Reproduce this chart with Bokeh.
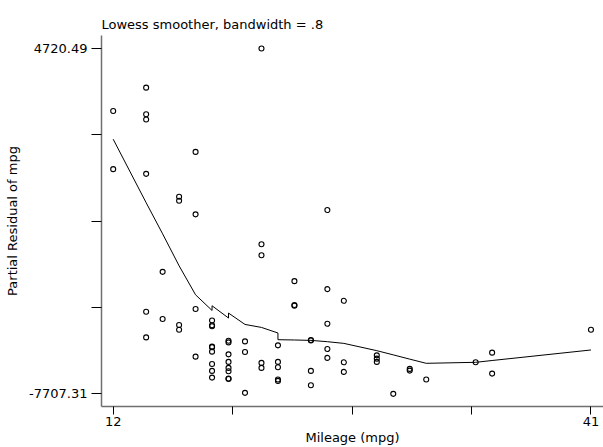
from bokeh.plotting import figure
from bokeh.models import FixedTicker, PrintfTickFormatter, Range1d, ColumnDataSource
from bokeh.embed import file_html
from bokeh.resources import INLINE

# --- data ---
mpg = [12, 12,
       14, 14, 14, 14, 14, 14,
       15, 15,
       16, 16, 16, 16,
       17, 17, 17, 17,
       18, 18, 18, 18, 18, 18, 18, 18, 18,
       19, 19, 19, 19, 19, 19, 19, 19,
       20, 20, 20,
       21, 21, 21, 21, 21,
       22, 22, 22, 22, 22,
       23, 23, 23,
       24, 24, 24, 24,
       25, 25, 25, 25, 25,
       26, 26, 26,
       28, 28, 28,
       29,
       30, 30,
       31,
       34,
       35, 35,
       41]
partial_resid = [2470, 378,
                 3310, 2352, 2162, 209, -4754, -5676,
                 -3318, -5016,
                 -616, -760, -5231, -5400,
                 999, -1248, -4657, -6369,
                 -5066, -5238, -5274, -6010, -6028, -6190, -6631, -6882, -7123,
                 -5795, -5856, -6286, -6559, -6774, -6896, -7158, -7176,
                 -5820, -6200, -7672,
                 4720.49, -2324, -2719, -6595, -6774,
                 -5963, -6559, -6753, -7194, -7241,
                 -3652, -4513, -4538,
                 -5770, -5790, -6882, -7399,
                 -1093, -3939, -5185, -6093, -6415,
                 -4359, -6573, -6918,
                 -6322, -6441, -6559,
                 -7707.31,
                 -6810, -6871,
                 -7194,
                 -6573,
                 -6225, -6979,
                 -5400]

lowess_x = [12, 14, 15, 16, 17, 18, 18, 19, 19, 20, 21, 22, 22, 23, 24, 25, 26,
            28, 29, 30, 31, 34, 35, 41]
lowess_y = [1455, -830, -1950, -3100, -4144, -4707, -4538, -4980, -4801, -5210,
            -5318, -5518, -5759, -5770, -5784, -5831, -5892, -6154, -6305, -6459,
            -6609, -6573, -6508, -6129]

x_major_ticks = [12, 41]
x_minor_ticks = [19.25, 26.5, 33.75]
y_major_ticks = [-7707.31, 4720.49]
y_minor_ticks = [-4600.36, -1493.41, 1613.54]

title_text = "Lowess smoother, bandwidth = .8"
x_label = "Mileage (mpg)"
y_label = "Partial Residual of mpg"

FONT = "DejaVu Sans"
FS = "13px"

p = figure(width=603, height=447, output_backend="svg", toolbar_location=None,
           x_range=Range1d(11.29, 41.76), y_range=Range1d(-8163, 5187),
           min_border_left=101, min_border_right=0, min_border_top=35,
           min_border_bottom=40)
p.background_fill_color = "white"
p.border_fill_color = "white"
p.outline_line_color = None
p.xgrid.visible = False
p.ygrid.visible = False

p.title.text = title_text
p.title.align = "left"
p.title.text_font = FONT
p.title.text_font_size = FS
p.title.text_font_style = "normal"
p.title.text_color = "black"
p.title.offset = 0
p.title.standoff = 8

p.line(lowess_x, lowess_y, line_color="black", line_width=1)
src = ColumnDataSource(dict(x=mpg, y=partial_resid))
p.scatter("x", "y", source=src, marker="circle", size=5, fill_color=None,
          line_color="black", line_width=1.1)

for ax, maj, mino, fmt, tick_out in (
        (p.xaxis[0], x_major_ticks, x_minor_ticks, "%d", 8),
        (p.yaxis[0], y_major_ticks, y_minor_ticks, "%.2f", 10)):
    ax.ticker = FixedTicker(ticks=maj, minor_ticks=mino)
    ax.formatter = PrintfTickFormatter(format=fmt)
    ax.axis_line_color = "#707070"
    ax.axis_line_width = 1.5
    ax.major_tick_line_color = "black"
    ax.minor_tick_line_color = "black"
    ax.major_tick_out = tick_out
    ax.major_tick_in = 0
    ax.minor_tick_out = tick_out
    ax.minor_tick_in = 0
    ax.major_label_text_font = FONT
    ax.major_label_text_font_size = FS
    ax.major_label_text_color = "black"
    ax.axis_label_text_font = FONT
    ax.axis_label_text_font_size = FS
    ax.axis_label_text_font_style = "normal"
    ax.axis_label_text_color = "black"

p.xaxis.axis_label = x_label
p.xaxis.major_label_standoff = 2
p.xaxis.axis_label_standoff = 1
p.yaxis.axis_label = y_label
p.yaxis.major_label_standoff = 4
p.yaxis.axis_label_standoff = 6

open("out.html", "w").write(file_html(p, INLINE))
